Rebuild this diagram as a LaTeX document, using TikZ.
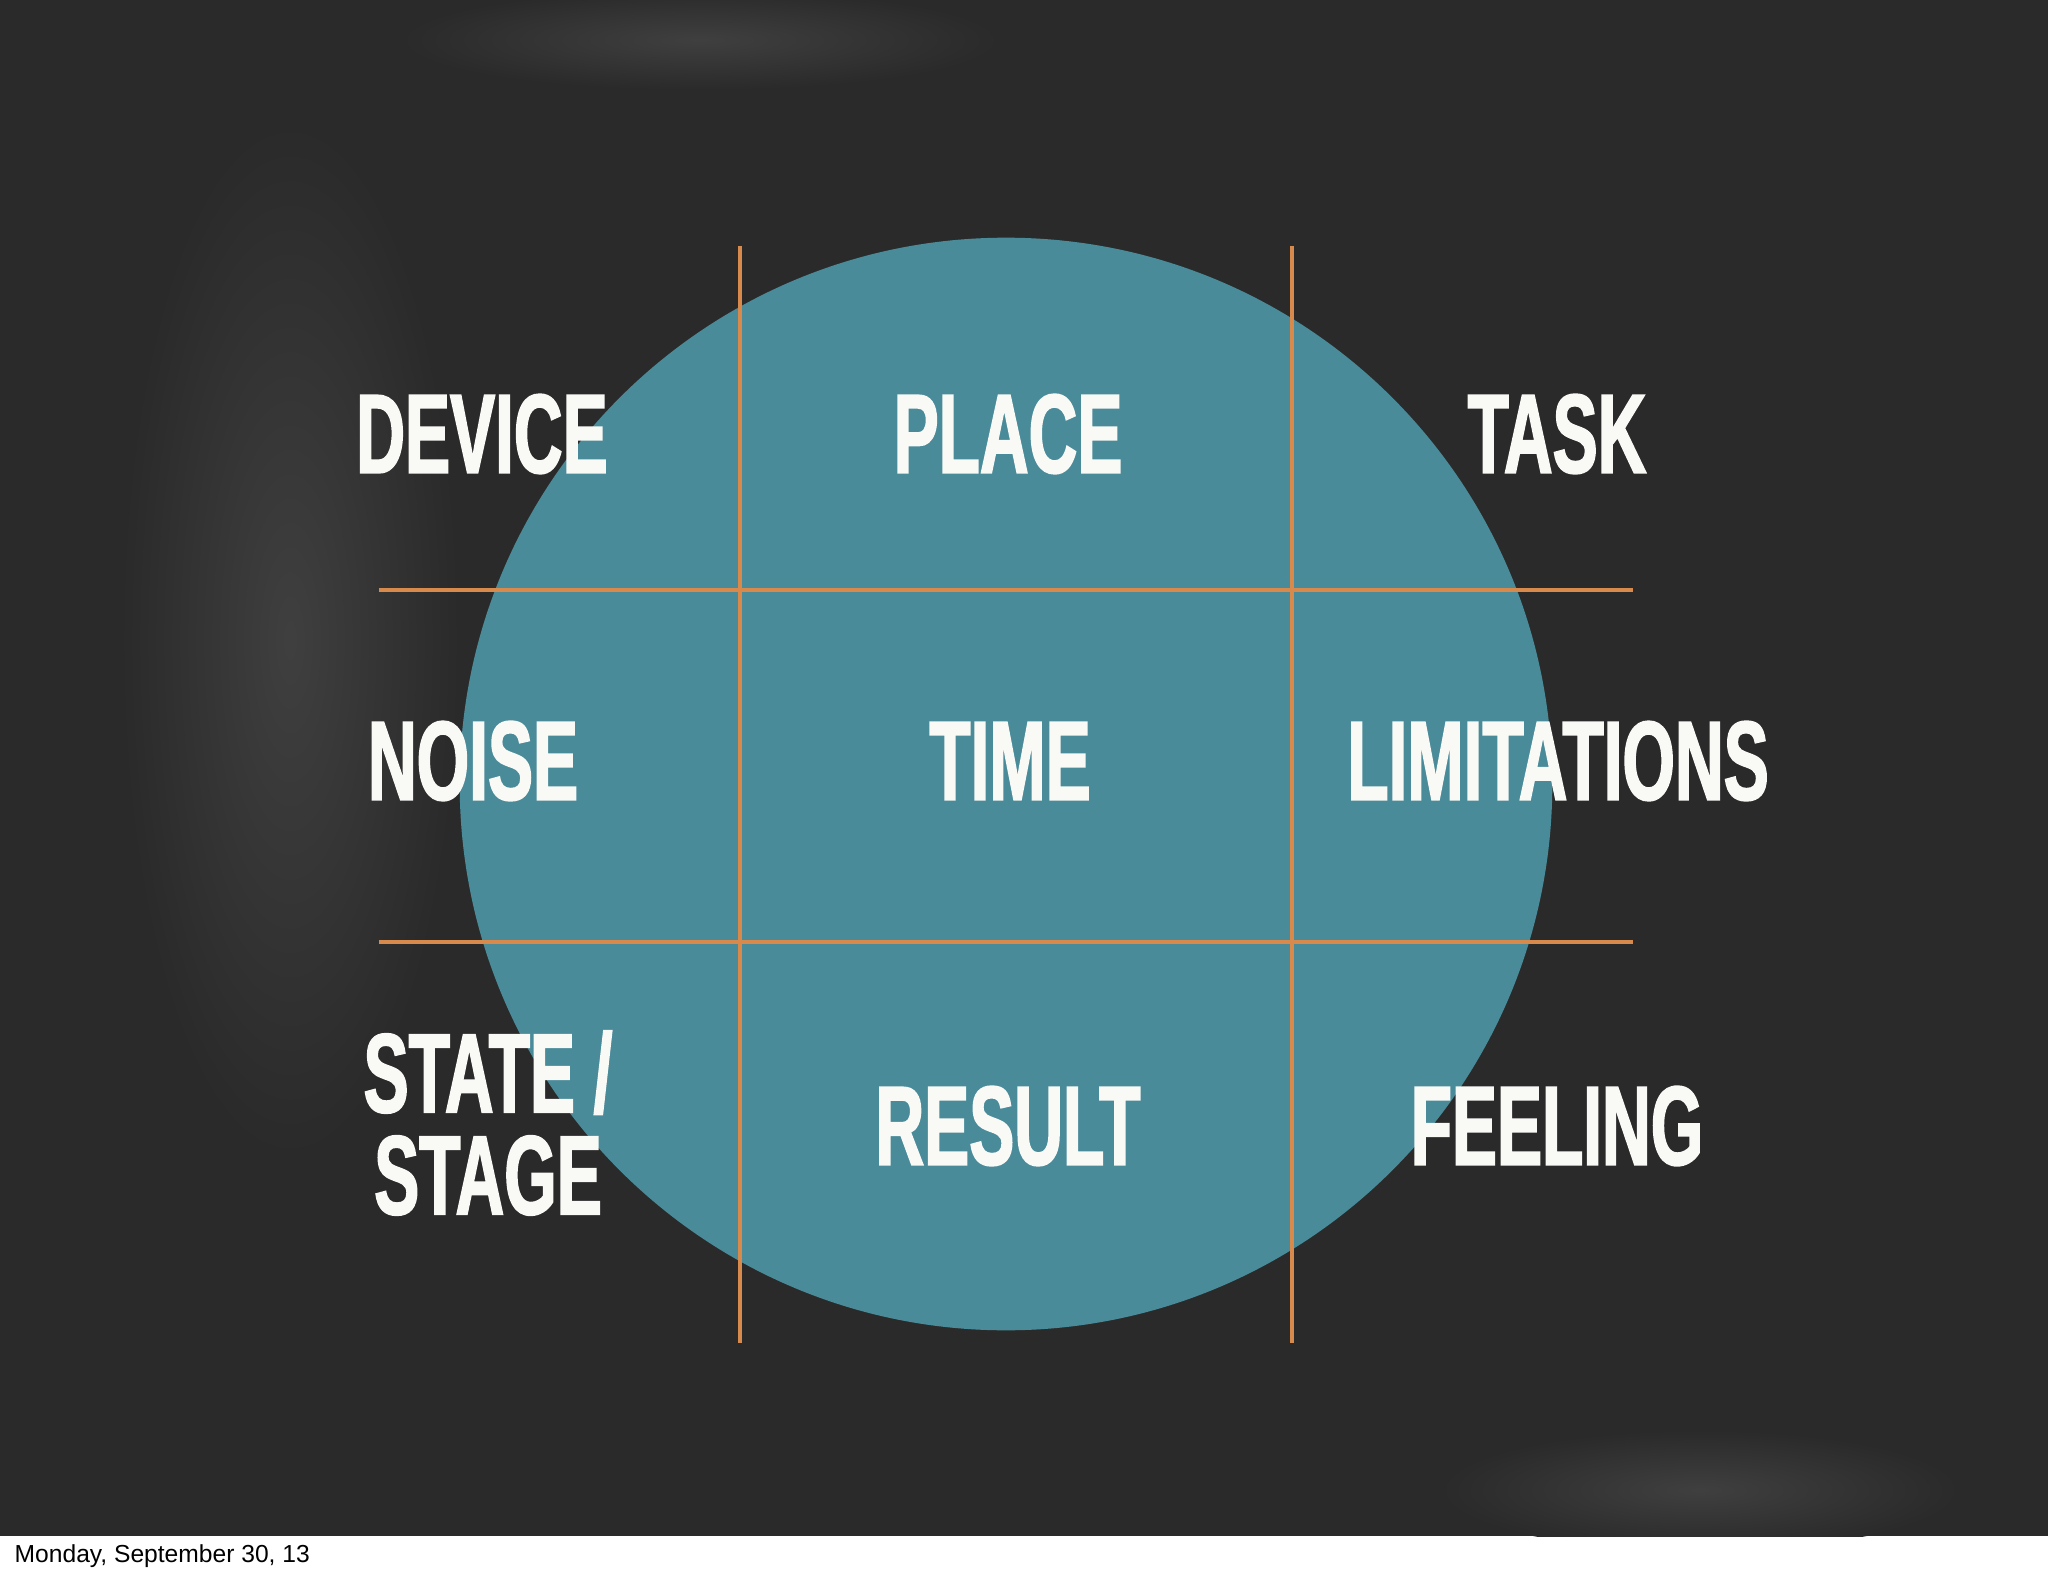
\documentclass[tikz,border=0pt]{standalone}
\usepackage{fontspec}
\setmainfont{Liberation Sans}
\newfontfamily\labelfont[FakeStretch=0.6,FakeBold=1.5]{Liberation Sans}
\definecolor{board}{HTML}{2A2A2A}
\definecolor{disc}{HTML}{4A8B9A}
\definecolor{rule}{HTML}{D88A4C}
\definecolor{chalk}{HTML}{F9F9F6}
\tikzset{
	word/.style={text=chalk, font=\labelfont\bfseries\fontsize{32}{29}\selectfont,
		align=center, inner sep=0pt},
	gridline/.style={draw=rule, line width=0.9pt},
	smudge/.style={inner color=board!90!white, outer color=board}
}

\begin{document}
\begin{tikzpicture}[x=0.01cm, y=-0.01cm]
		\useasboundingbox (0,0) rectangle (2048,1576);

		%% backdrop
		\fill[white] (0,0) rectangle (2048,1576);
		\fill[board] (0,0) rectangle (2048,1536);
		% chalk smudges
		\begin{scope}
			\clip (0,0) rectangle (2048,1536);
			\shade[smudge] (290,640) ellipse[x radius=170, y radius=520];
			\shade[smudge] (1700,1490) ellipse[x radius=260, y radius=60];
			\shade[smudge] (700,40) ellipse[x radius=300, y radius=50];
		\end{scope}

		%% disc
		\fill[disc] (1006,784) circle[radius=5.46cm];

		%% grid
		\draw[gridline] (740,246) -- (740,1343);
		\draw[gridline] (1292,246) -- (1292,1343);
		\draw[gridline] (379,590) -- (1633,590);
		\draw[gridline] (379,942) -- (1633,942);

		%% labels
		% top row
		\node[word] (device) at (482,434) {DEVICE};
		\node[word] (place) at (1008,434) {PLACE};
		\node[word] (task) at (1557,434) {TASK};
		% middle row
		\node[word] (noise) at (473,761) {NOISE};
		\node[word] (time) at (1010,761) {TIME};
		\node[word] (limits) at (1558,761) {LIMITATIONS};
		% bottom row
		\node[word] (state) at (488,1123) {STATE /\\STAGE};
		\node[word] (result) at (1008,1126) {RESULT};
		\node[word] (feeling) at (1557,1126) {FEELING};

		% footer
		\node[anchor=base west, inner sep=0pt, font=\fontsize{7}{8}\selectfont] (date)
			at (14,1562) {Monday, September 30, 13};
\end{tikzpicture}
\end{document}
